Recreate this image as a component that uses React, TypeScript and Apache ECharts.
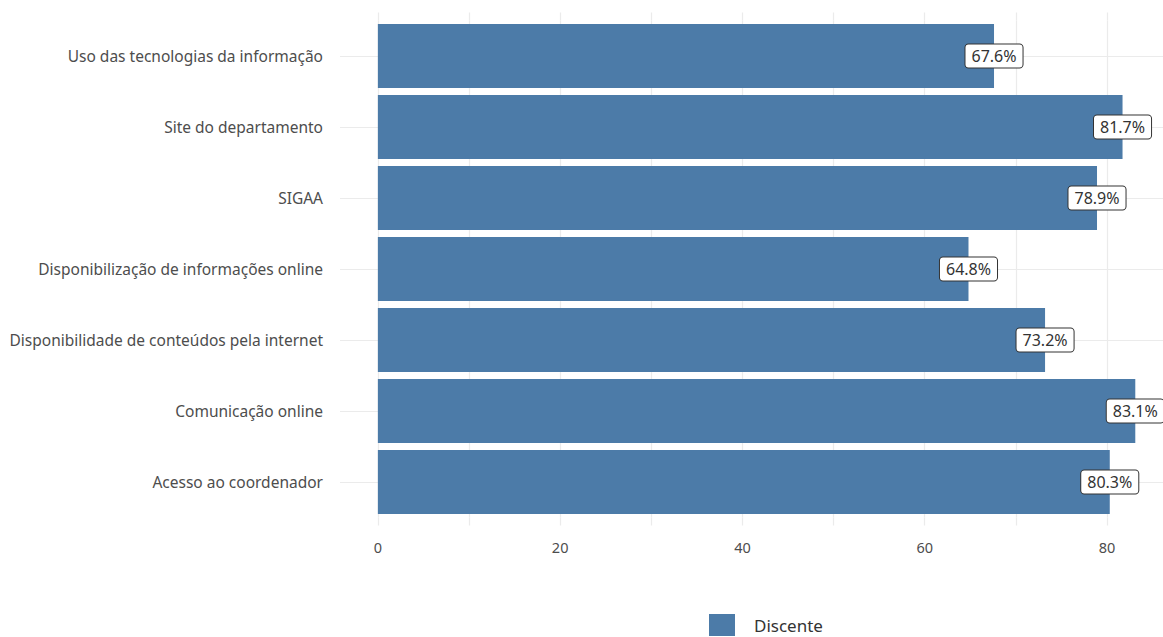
import React, { useEffect, useRef } from "react";
import * as echarts from "echarts";

const categories = [
  "Uso das tecnologias da informação",
  "Site do departamento",
  "SIGAA",
  "Disponibilização de informações online",
  "Disponibilidade de conteúdos pela internet",
  "Comunicação online",
  "Acesso ao coordenador",
];
const values = [67.6, 81.7, 78.9, 64.8, 73.2, 83.1, 80.3];
const seriesName = "Discente";
const xLabelValues = [0, 20, 40, 60, 80];
const xGridValues = [0, 10, 20, 30, 40, 50, 60, 70, 80];

const FONT = "'Noto Sans', 'Open Sans', sans-serif";
const GRID = "#ebebeb";
const TEXT = "#4d4d4d";
const BAR = "#4C7BA8";

export default function App() {
  const ref = useRef<HTMLDivElement>(null);
  useEffect(() => {
    if (!ref.current) return;
    const chart = echarts.init(ref.current, null, { renderer: "svg" });
    const xMin = -4.155;
    const xMax = 86.14;
    chart.setOption({
      animation: false,
      backgroundColor: "#ffffff",
      textStyle: { fontFamily: FONT },
      grid: { left: 340, right: 0, top: 20.5, bottom: 119.5, containLabel: false },
      legend: {
        show: true,
        left: 709,
        top: 614,
        padding: 0,
        icon: "rect",
        itemWidth: 26,
        itemHeight: 22,
        data: [seriesName],
        textStyle: { fontFamily: FONT, fontSize: 17, color: "#333333", padding: [0, 0, 0, 14] },
      },
      xAxis: [
        {
          type: "value",
          min: xMin,
          max: xMax,
          position: "bottom",
          axisLine: { show: false },
          axisTick: {
            show: true,
            length: 8,
            customValues: xGridValues,
            lineStyle: { color: GRID, width: 1.2 },
          },
          axisLabel: {
            customValues: xLabelValues,
            color: TEXT,
            fontSize: 14.5,
            fontFamily: FONT,
            margin: 22,
          },
          splitLine: { show: true, lineStyle: { color: GRID, width: 1.2 } },
        },
        {
          type: "value",
          min: xMin,
          max: xMax,
          position: "top",
          axisLine: { show: false },
          axisTick: {
            show: true,
            length: 8,
            customValues: xGridValues,
            lineStyle: { color: GRID, width: 1.2 },
          },
          axisLabel: { show: false },
          splitLine: { show: false },
        },
      ],
      yAxis: {
        type: "category",
        data: categories,
        inverse: true,
        axisLine: { show: false },
        axisTick: { show: false, alignWithLabel: true },
        axisLabel: { color: TEXT, fontSize: 15.5, fontFamily: FONT, margin: 17 },
        splitLine: { show: true, alignWithLabel: true, lineStyle: { color: GRID, width: 1.2 } },
      },
      series: [
        {
          name: seriesName,
          type: "bar",
          data: values,
          barWidth: "90%",
          itemStyle: { color: BAR },
          z: 2,
          label: {
            show: true,
            position: "right",
            distance: 0,
            align: "center",
            verticalAlign: "middle",
            formatter: (p: any) => Number(p.value).toFixed(1) + "%",
            color: "#333333",
            fontSize: 16,
            fontFamily: FONT,
            backgroundColor: "#ffffff",
            borderColor: "#333333",
            borderWidth: 1,
            borderRadius: 3,
            padding: [4, 6, 3, 6],
          },
          labelLayout: { hideOverlap: false },
        },
      ],
    });
    return () => chart.dispose();
  }, []);
  return (
    <div
      ref={ref}
      style={{ position: "fixed", left: 0, top: 0, width: 1163, height: 637 }}
    />
  );
}
